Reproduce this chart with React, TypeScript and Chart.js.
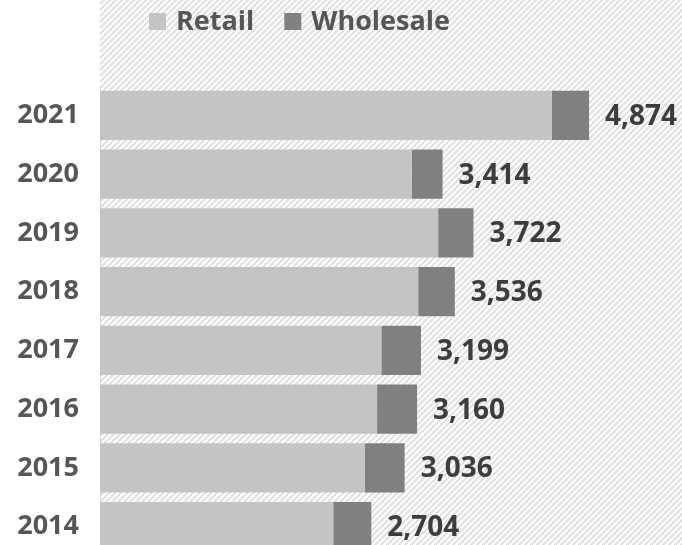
import React, { useEffect, useRef } from "react";
import { Chart, registerables } from "chart.js";

Chart.register(...registerables);

const years = ["2021", "2020", "2019", "2018", "2017", "2016", "2015", "2014"];
const retail = [4501, 3107, 3370, 3171, 2804, 2761, 2638, 2325];
const wholesale = [373, 307, 352, 365, 395, 399, 398, 379];
const seriesNames = ["Retail", "Wholesale"];
const seriesColors = ["#c3c4c6", "#808080"];

const FONT = '"Open Sans", "Noto Sans", sans-serif';

function makePattern(): CanvasPattern | string {
  const c = document.createElement("canvas");
  const n = 6;
  c.width = n;
  c.height = n;
  const ctx = c.getContext("2d");
  if (!ctx) return "#f0f0f0";
  ctx.fillStyle = "#ffffff";
  ctx.fillRect(0, 0, n, n);
  ctx.fillStyle = "#e2e2e2";
  for (let x = 0; x < n; x++) {
    for (let y = 0; y < n; y++) {
      if ((x + y) % n < 3) ctx.fillRect(x, y, 1, 1);
    }
  }
  const p = ctx.createPattern(c, "repeat");
  return p || "#f0f0f0";
}

const hatchPlugin = {
  id: "hatchBg",
  beforeDraw(chart: any) {
    const { ctx, width, height, chartArea } = chart;
    ctx.save();
    ctx.fillStyle = "#ffffff";
    ctx.fillRect(0, 0, width, height);
    ctx.fillStyle = makePattern();
    ctx.fillRect(chartArea.left, 0, width - chartArea.left, height);
    ctx.restore();
  },
};

const legendPlugin = {
  id: "customLegend",
  afterDraw(chart: any) {
    const { ctx } = chart;
    ctx.save();
    ctx.font = `bold 27px ${FONT}`;
    ctx.textBaseline = "middle";
    ctx.textAlign = "left";
    let x = 149;
    const cy = 21.5;
    const box = 17;
    seriesNames.forEach((name, i) => {
      ctx.fillStyle = seriesColors[i];
      ctx.fillRect(x, cy - box / 2, box, box);
      ctx.fillStyle = "#565656";
      ctx.fillText(name, x + box + 10, cy + 1);
      x += box + 10 + ctx.measureText(name).width + 30;
    });
    ctx.restore();
  },
};

const totalLabelPlugin = {
  id: "totalLabels",
  afterDatasetsDraw(chart: any) {
    const { ctx } = chart;
    const meta = chart.getDatasetMeta(chart.data.datasets.length - 1);
    ctx.save();
    ctx.font = `bold 28px ${FONT}`;
    ctx.fillStyle = "#3d3d3d";
    ctx.textBaseline = "middle";
    ctx.textAlign = "left";
    meta.data.forEach((el: any, i: number) => {
      const total = retail[i] + wholesale[i];
      ctx.fillText(total.toLocaleString("en-US"), el.x + 16, el.y + 1.5);
    });
    ctx.restore();
  },
};

export default function App() {
  const ref = useRef<HTMLCanvasElement | null>(null);

  useEffect(() => {
    document.body.style.margin = "0";
    const canvas = ref.current;
    if (!canvas) return;
    const chart = new Chart(canvas, {
      type: "bar",
      data: {
        labels: years,
        datasets: [
          {
            label: seriesNames[0],
            data: retail,
            backgroundColor: seriesColors[0],
            borderWidth: 0,
          },
          {
            label: seriesNames[1],
            data: wholesale,
            backgroundColor: seriesColors[1],
            borderWidth: 0,
          },
        ],
      },
      options: {
        indexAxis: "y",
        responsive: false,
        animation: false,
        devicePixelRatio: 1,
        layout: { padding: { top: 86, bottom: 4, left: 0, right: 0 } },
        datasets: {
          bar: { categoryPercentage: 1, barPercentage: 0.835 },
        },
        plugins: {
          legend: { display: false },
          tooltip: { enabled: false },
          title: { display: false },
        },
        scales: {
          x: {
            stacked: true,
            display: false,
            min: 0,
            max: 5800,
          },
          y: {
            stacked: true,
            grid: { display: false, drawTicks: false },
            border: { display: true, color: "#d9d9d9", width: 1 },
            ticks: {
              color: "#565656",
              padding: 21,
              font: { family: FONT, size: 27, weight: "bold" },
            },
            afterFit(scale: any) {
              scale.width = 100;
              scale.paddingTop = 0;
              scale.paddingBottom = 0;
            },
          },
        },
      } as any,
      plugins: [hatchPlugin, totalLabelPlugin, legendPlugin],
    });
    return () => chart.destroy();
  }, []);

  return (
    <div
      style={{
        position: "fixed",
        left: 0,
        top: 0,
        width: 682,
        height: 545,
        overflow: "hidden",
        background: "#ffffff",
      }}
    >
      <canvas ref={ref} width={682} height={560} style={{ display: "block" }} />
    </div>
  );
}
